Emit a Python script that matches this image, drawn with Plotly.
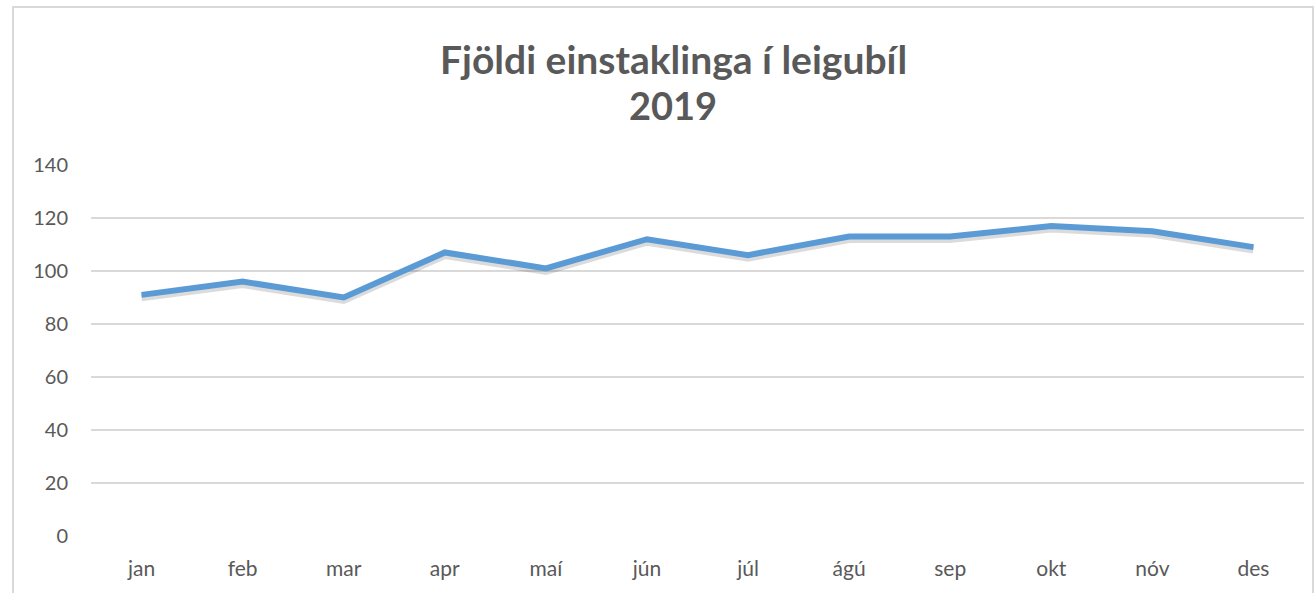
import plotly.graph_objects as go

months = ["jan", "feb", "mar", "apr", "maí", "jún", "júl", "ágú", "sep", "okt", "nóv", "des"]
values = [91, 96, 90, 107, 101, 112, 106, 113, 113, 117, 115, 109]
y_ticks = [0, 20, 40, 60, 80, 100, 120, 140]
title_line1 = "Fjöldi einstaklinga í leigubíl"
title_line2 = "2019"

OFF = 0  # body margin removed by post_script
W, H = 1314 - OFF, 593 - OFF
L, R, T, B = 91 - OFF, 10, 165 - OFF, 57
pw = W - L - R
ph = H - T - B

def px_x(p):
    return (p - OFF - L) / pw

def px_y(p):
    return (H - B - (p - OFF)) / ph

shadow_shift = 3 / ph * 140  # data units equal to ~3 px downward

fig = go.Figure()
# shadow on the main (hidden) y axis, shifted range
fig.add_trace(go.Scatter(x=months, y=values, mode="lines", yaxis="y",
                         line=dict(color="rgba(0,0,0,0.14)", width=7), hoverinfo="skip",
                         showlegend=False))
# the data line on the visible overlay axis
fig.add_trace(go.Scatter(x=months, y=values, mode="lines", yaxis="y2",
                         line=dict(color="#5B9BD5", width=6), showlegend=False))

font_family = "Lato, 'Open Sans', sans-serif"
fig.update_layout(
    width=W, height=H,
    margin=dict(l=L, r=R, t=T, b=B, autoexpand=False),
    paper_bgcolor="white", plot_bgcolor="white",
    font=dict(family=font_family, color="#595959", size=20),
    xaxis=dict(type="category", range=[-0.5, 11.5], showgrid=False, zeroline=False,
               showline=False, ticks="", ticklabelstandoff=18,
               tickfont=dict(size=21, color="#595959")),
    yaxis=dict(range=[shadow_shift, 140 + shadow_shift], showgrid=False, showticklabels=False,
               zeroline=False, showline=False, ticks=""),
    yaxis2=dict(range=[0, 140], tickvals=y_ticks, overlaying="y", side="left", anchor="x",
                showgrid=True, gridcolor="#D9D9D9", gridwidth=1.5, zeroline=False,
                showline=False, ticks="", ticklabelstandoff=22,
                tickfont=dict(size=20, color="#595959")),
    shapes=[dict(type="rect", xref="paper", yref="paper",
                 x0=px_x(13), x1=px_x(1313), y0=px_y(620), y1=px_y(7),
                 line=dict(color="#D9D9D9", width=2), fillcolor="rgba(0,0,0,0)", layer="below")],
    annotations=[
        dict(text="<b>" + title_line1 + "</b>", xref="paper", yref="paper",
             x=px_x(673), y=px_y(59), showarrow=False, xanchor="center", yanchor="middle",
             font=dict(size=39, color="#595959", family=font_family)),
        dict(text="<b>" + title_line2 + "</b>", xref="paper", yref="paper",
             x=px_x(673), y=px_y(105), showarrow=False, xanchor="center", yanchor="middle",
             font=dict(size=38, color="#595959", family=font_family)),
    ],
)
fig.write_html("out.html", post_script="document.body.style.margin='0';",
               config={"displayModeBar": False})
